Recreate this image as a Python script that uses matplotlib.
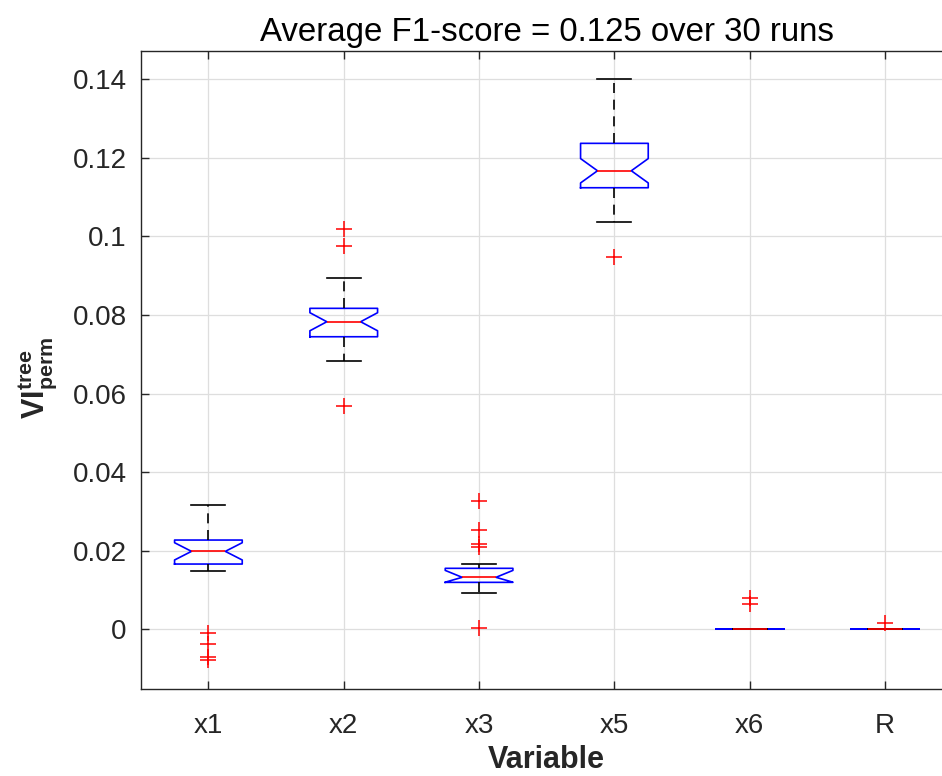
import matplotlib
matplotlib.use("Agg")
import matplotlib.pyplot as plt
import numpy as np

plt.rcParams['font.family'] = ['Liberation Sans', 'DejaVu Sans']
plt.rcParams['mathtext.fontset'] = 'custom'
plt.rcParams['mathtext.rm'] = 'Liberation Sans'
plt.rcParams['mathtext.bf'] = 'Liberation Sans:bold'

# ---- data ----
categories = ['x1', 'x2', 'x3', 'x5', 'x6', 'R']
medians = [0.01985, 0.0783, 0.01324, 0.11673, 0.0, 0.0]
q1s = [0.01662, 0.07448, 0.01196, 0.11241, 0.0, 0.0]
q3s = [0.02273, 0.08171, 0.01553, 0.12371, 0.0, 0.0]
whisker_lo = [0.01492, 0.0683, 0.00932, 0.10375, 0.0, 0.0]
whisker_hi = [0.03164, 0.08935, 0.0167, 0.14008, 0.0, 0.0]
notch_lo = [0.01765, 0.0760, 0.0120, 0.11363, 0.0, 0.0]
notch_hi = [0.02205, 0.0806, 0.0150, 0.11983, 0.0, 0.0]
outliers = [
    [-0.00087, -0.00374, -0.00705, -0.00786],
    [0.1018, 0.0976, 0.0569],
    [0.03266, 0.02528, 0.02171, 0.02087, 0.00025],
    [0.09484],
    [0.00804, 0.00636],
    [0.00153],
]
ytick_vals = [0, 0.02, 0.04, 0.06, 0.08, 0.1, 0.12, 0.14]
ytick_labels = ['0', '0.02', '0.04', '0.06', '0.08', '0.1', '0.12', '0.14']
title = 'Average F1-score = 0.125 over 30 runs'

stats = []
for i, c in enumerate(categories):
    stats.append(dict(label=c, med=medians[i], q1=q1s[i], q3=q3s[i],
                      whislo=whisker_lo[i], whishi=whisker_hi[i],
                      cilo=notch_lo[i], cihi=notch_hi[i],
                      fliers=np.array(outliers[i])))

fig = plt.figure(figsize=(9.42, 7.76), dpi=100)
ax = fig.add_axes([0.1494, 0.1117, 0.862, 0.823])

positions = np.arange(1, len(categories) + 1)
ax.bxp(stats, positions=positions, widths=0.5, shownotches=True,
       boxprops=dict(color='#0000ff', linewidth=1.2),
       medianprops=dict(color='#ff0000', linewidth=1.2),
       whiskerprops=dict(color='#000000', linewidth=1.2, linestyle=(0, (6, 4))),
       capprops=dict(color='#000000', linewidth=1.2),
       flierprops=dict(marker='+', markeredgecolor='#ff0000', markersize=11,
                       markeredgewidth=1.1, linestyle='none'))

ax.set_xlim(0.5, 6.5)
ax.set_ylim(-0.01527, 0.1473)
ax.set_xticks(positions)
ax.set_xticklabels(categories)
ax.set_yticks(ytick_vals)
ax.set_yticklabels(ytick_labels)

ax.grid(True, color='#dedede', linewidth=0.9)
ax.set_axisbelow(True)
ax.spines['right'].set_visible(False)
for s in ax.spines.values():
    s.set_color('#262626')
    s.set_linewidth(1.0)
ax.tick_params(direction='in', length=6, width=1.0, colors='#262626',
               labelsize=20)
ax.tick_params(axis='x', top=True, pad=17)
ax.tick_params(axis='y', right=False, pad=10)

ax.set_title(title, fontsize=23.8, color='#000000', pad=7)
ax.set_xlabel('Variable', fontsize=22, fontweight='bold', color='#262626')
ax.xaxis.set_label_coords(0.5, -0.0876)
ax.xaxis.label.set_verticalalignment('top')
ax.set_ylabel(r'$\mathbf{VI}_{\mathbf{perm}}^{\mathbf{tree}}$', fontsize=22,
              color='#262626')
ax.yaxis.set_label_coords(-0.101, 0.488)

fig.savefig('out.png', dpi=100)
